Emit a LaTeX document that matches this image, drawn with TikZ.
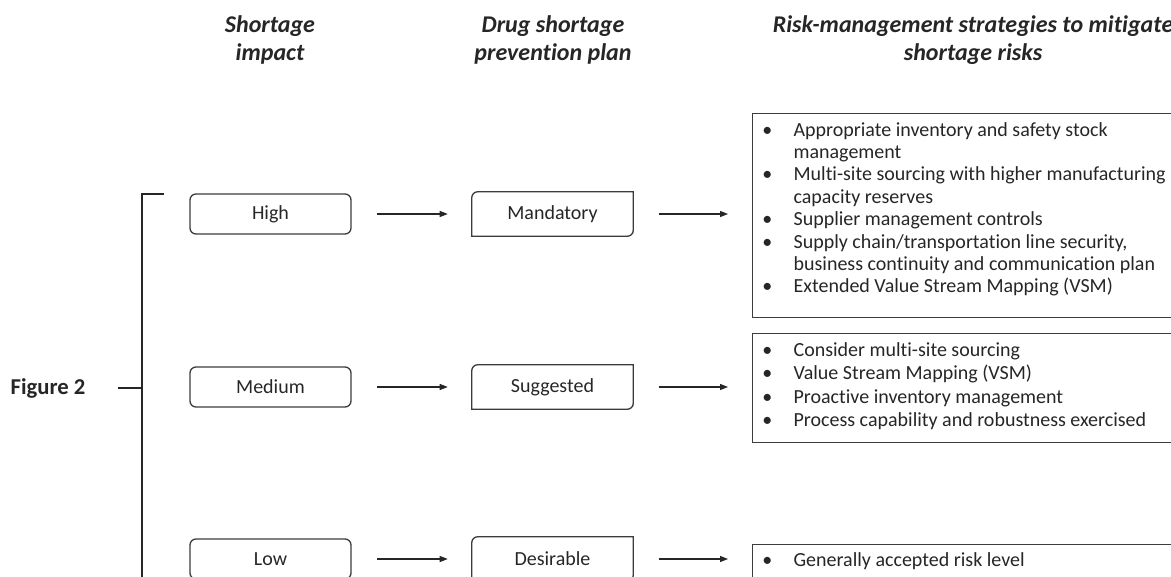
\documentclass[tikz,border=0pt]{standalone}
\usepackage{fontspec}
\setmainfont[Ligatures=NoCommon]{Carlito}
\usetikzlibrary{arrows.meta}

\definecolor{inkgrey}{RGB}{38,38,38}
\definecolor{edgegrey}{RGB}{60,60,60}

\newcommand{\rb}{\makebox[23.5pt][l]{\textbullet}}
\newcommand{\rsp}{\hspace*{23.5pt}}
% box with top-left and bottom-right corners rounded
\newcommand{\planframe}[1]{%
  \draw[draw=edgegrey,line width=1pt] (#1.north east) -- ([shift={(6,0)}]#1.north west) arc[start angle=270,end angle=180,radius=6] -- (#1.south west) -- ([shift={(-6,0)}]#1.south east) arc[start angle=90,end angle=0,radius=6] -- cycle;}

\tikzset{
  impactbox/.style={draw=edgegrey,line width=1pt,rounded corners=4.5pt,minimum width=120.75pt,minimum height=30pt,inner sep=0pt,text=inkgrey,font=\fontsize{15}{18}\selectfont},
  planbox/.style={minimum width=120.75pt,minimum height=33pt,inner sep=0pt,text=inkgrey,font=\fontsize{15}{18}\selectfont},
  riskbox/.style={draw=edgegrey,line width=0.8pt,anchor=north west,minimum width=330pt,inner sep=0pt},
  risktext/.style={anchor=north west,align=left,inner sep=0pt,text=inkgrey},
  headtext/.style={anchor=north,align=center,inner sep=0pt,text=inkgrey,font=\fontsize{18}{21}\selectfont\bfseries\itshape},
  flow/.style={draw=inkgrey,line width=0.8pt,-{Triangle[length=6pt,width=4.5pt]},shorten <=19pt,shorten >=18pt}
}

\begin{document}
\begin{tikzpicture}[x=0.75pt,y=0.75pt,yscale=-1,xscale=1]
\useasboundingbox (0,0) rectangle (1171,577);

% Text Node
\node[headtext] (hImpact) at (270,15) {Shortage\\impact};
% Text Node
\node[headtext] (hPlan) at (553,15) {Drug shortage\\prevention plan};
% Text Node
\node[headtext] (hRisk) at (973,15) {Risk-management strategies to mitigate\\shortage risks};

% Text Node
\node[inner sep=0pt,text=inkgrey,font=\fontsize{17}{20}\selectfont\bfseries] (fig) at (48,388) {Figure 2};

%Rounded Rect
\node[impactbox] (high) at (270.5,214) {High};
\node[impactbox] (medium) at (270.5,387) {Medium};
\node[impactbox] (low) at (270.5,559) {Low};

%Shape: Round Diagonal Corner Rectangle
\node[planbox] (mandatory) at (552.5,214) {Mandatory};
\node[planbox] (suggested) at (552.5,387) {Suggested};
\node[planbox] (desirable) at (552.5,559) {Desirable};
\planframe{mandatory}
\planframe{suggested}
\planframe{desirable}

%Shape: Rectangle
\node[riskbox,minimum height=153pt] (riskHigh) at (752,113) {};
\node[riskbox,minimum height=81.75pt] (riskMedium) at (752,333) {};
\node[riskbox,minimum height=24.4pt] (riskLow) at (752,544) {};

% Text Node
\node[risktext,font=\fontsize{15}{16.8}\selectfont] (listHigh) at (762,122) {%
\rb Appropriate inventory and safety stock\\
\rsp management\\
\rb Multi-site sourcing with higher manufacturing\\
\rsp capacity reserves\\
\rb Supplier management controls\\
\rb Supply chain/transportation line security,\\
\rsp business continuity and communication plan\\
\rb Extended Value Stream Mapping (VSM)};
% Text Node
\node[risktext,font=\fontsize{15}{17.6}\selectfont] (listMedium) at (762,342) {%
\rb Consider multi-site sourcing\\
\rb Value Stream Mapping (VSM)\\
\rb Proactive inventory management\\
\rb Process capability and robustness exercised};
% Text Node
\node[risktext,font=\fontsize{15}{17.6}\selectfont] (listLow) at (762,552) {%
\rb Generally accepted risk level};

%Straight Lines
\draw[flow] (high) -- (mandatory);
\draw[flow] (medium) -- (suggested);
\draw[flow] (low) -- (desirable);
\draw[flow] (mandatory.east) -- (mandatory.east -| riskHigh.west);
\draw[flow] (suggested.east) -- (suggested.east -| riskMedium.west);
\draw[flow] (desirable.east) -- (desirable.east -| riskLow.west);

%Straight Lines
\coordinate (brTop) at (142,194);
\draw[draw=inkgrey,line width=0.9pt] (164,194) -- (brTop) -- (142,590);
\draw[draw=inkgrey,line width=0.9pt,shorten <=24pt] (fig.east) -- (fig.east -| brTop);

\end{tikzpicture}
\end{document}
